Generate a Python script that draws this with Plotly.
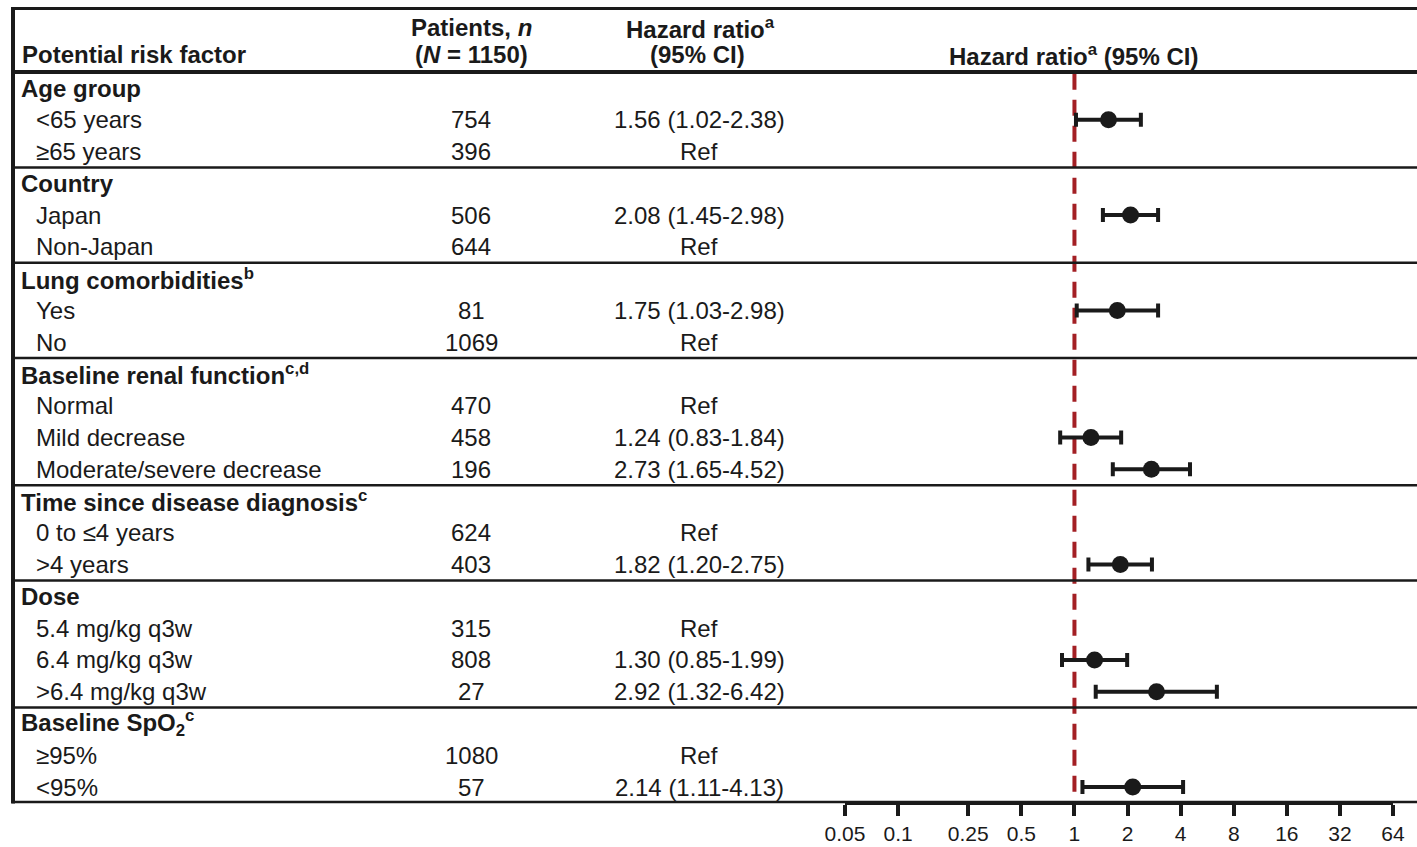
import plotly.graph_objects as go

# ---- data ----
labels = ["Age group", "<65 years", "≥65 years",
          "Country", "Japan", "Non-Japan",
          "Lung comorbidities<sup>b</sup>", "Yes", "No",
          "Baseline renal function<sup>c,d</sup>", "Normal", "Mild decrease", "Moderate/severe decrease",
          "Time since disease diagnosis<sup>c</sup>", "0 to ≤4 years", ">4 years",
          "Dose", "5.4 mg/kg q3w", "6.4 mg/kg q3w", ">6.4 mg/kg q3w",
          "Baseline SpO<sub>2</sub><sup>c</sup>", "≥95%", "<95%"]
is_group = [True, False, False,
            True, False, False,
            True, False, False,
            True, False, False, False,
            True, False, False,
            True, False, False, False,
            True, False, False]
patients = ["", "754", "396",
            "", "506", "644",
            "", "81", "1069",
            "", "470", "458", "196",
            "", "624", "403",
            "", "315", "808", "27",
            "", "1080", "57"]
hr = [None, 1.56, None,
      None, 2.08, None,
      None, 1.75, None,
      None, None, 1.24, 2.73,
      None, None, 1.82,
      None, None, 1.30, 2.92,
      None, None, 2.14]
ci_low = [None, 1.02, None,
          None, 1.45, None,
          None, 1.03, None,
          None, None, 0.83, 1.65,
          None, None, 1.20,
          None, None, 0.85, 1.32,
          None, None, 1.11]
ci_high = [None, 2.38, None,
           None, 2.98, None,
           None, 2.98, None,
           None, None, 1.84, 4.52,
           None, None, 2.75,
           None, None, 1.99, 6.42,
           None, None, 4.13]
ref_rows = [2, 5, 8, 10, 14, 17, 21]
group_breaks = [2.5, 5.5, 8.5, 12.5, 15.5, 19.5]
tick_vals = [0.05, 0.1, 0.25, 0.5, 1, 2, 4, 8, 16, 32, 64]
tick_text = ["0.05", "0.1", "0.25", "0.5", "1", "2", "4", "8", "16", "32", "64"]

W, H = 1417, 847
B = 46
PLOT_H = H - B
FONT = "Liberation Sans, Arial, sans-serif"
FS = 24
TXT = "#1a1a1a"


def px(x):
    return x / W


def py(p):
    # page pixel (from top) -> paper y
    return 1 - p / PLOT_H


rows = list(range(len(labels)))
pts = [i for i in rows if hr[i] is not None]

fig = go.Figure()
fig.add_trace(go.Scatter(
    x=[hr[i] for i in pts], y=pts, mode="markers",
    marker=dict(size=17, color=TXT),
    error_x=dict(type="data", symmetric=False,
                 array=[ci_high[i] - hr[i] for i in pts],
                 arrayminus=[hr[i] - ci_low[i] for i in pts],
                 thickness=4, width=7, color=TXT),
    showlegend=False, hoverinfo="skip"))

ann = []
# header
ann.append(dict(x=px(20), y=-1.04, text="<b>Potential risk factor</b>", xanchor="left"))
ann.append(dict(x=px(471), y=-1.89, text="<b>Patients, <i>n</i></b>", xanchor="center"))
ann.append(dict(x=px(471), y=-1.04, text="<b>(<i>N</i> = 1150)</b>", xanchor="center"))
ann.append(dict(x=px(700), y=-1.89, text="<b>Hazard ratio<sup>a</sup></b>", xanchor="center"))
ann.append(dict(x=px(697), y=-1.04, text="<b>(95% CI)</b>", xanchor="center"))
ann.append(dict(x=px(1073), y=-1.04, text="<b>Hazard ratio<sup>a</sup> (95% CI)</b>", xanchor="center"))

for i in rows:
    if is_group[i]:
        ann.append(dict(x=px(19), y=i, text="<b>" + labels[i] + "</b>", xanchor="left"))
    else:
        ann.append(dict(x=px(34), y=i, text=labels[i], xanchor="left"))
        ann.append(dict(x=px(471), y=i, text=patients[i], xanchor="center"))
        if i in ref_rows:
            txt = "Ref"
        else:
            txt = f"{hr[i]:.2f} ({ci_low[i]:.2f}-{ci_high[i]:.2f})"
        ann.append(dict(x=px(699), y=i, text=txt, xanchor="center"))

for a in ann:
    a.update(xref="paper", yref="y", showarrow=False, yanchor="middle",
             font=dict(family=FONT, size=FS, color=TXT))
fig.update_layout(annotations=ann)

shapes = []
LC = "#1a1a1a"
# top border
shapes.append(dict(type="line", xref="paper", yref="paper", x0=px(12), x1=1, y0=py(8.5), y1=py(8.5),
                   line=dict(color=LC, width=3)))
# header bottom
shapes.append(dict(type="line", xref="paper", yref="y", x0=px(12), x1=1, y0=-0.5, y1=-0.5,
                   line=dict(color=LC, width=4)))
for b in group_breaks:
    shapes.append(dict(type="line", xref="paper", yref="y", x0=px(12), x1=1, y0=b, y1=b,
                       line=dict(color=LC, width=2.5)))
# bottom border
shapes.append(dict(type="line", xref="paper", yref="paper", x0=px(12), x1=1, y0=py(802), y1=py(802),
                   line=dict(color=LC, width=2.5)))
# left border
shapes.append(dict(type="line", xref="paper", yref="paper", x0=px(13), x1=px(13), y0=py(803.5), y1=py(7),
                   line=dict(color=LC, width=4)))
# reference line at HR = 1
shapes.append(dict(type="line", xref="x", yref="y", x0=1, x1=1, y0=-0.45, y1=22.44,
                   line=dict(color="#a31f24", width=4, dash="16px,10px"), layer="below"))
fig.update_layout(shapes=shapes)

fig.update_layout(
    width=W, height=H,
    margin=dict(l=0, r=0, t=0, b=B),
    paper_bgcolor="white", plot_bgcolor="white",
    xaxis=dict(type="log", range=[-1.30103, 1.80618],
               domain=[px(845), px(1393)],
               showline=True, linecolor=LC, linewidth=4,
               ticks="outside", ticklen=11, tickwidth=4, tickcolor=LC,
               tickvals=tick_vals, ticktext=tick_text,
               tickfont=dict(family=FONT, size=21, color=TXT),
               showgrid=False, zeroline=False, automargin=False, fixedrange=True),
    yaxis=dict(range=[22.44, -2.77], visible=False, showgrid=False, zeroline=False,
               fixedrange=True),
)

fig.write_html("out.html", config={"displayModeBar": False},
               post_script="document.body.style.margin='0';document.body.style.overflow='hidden';")
